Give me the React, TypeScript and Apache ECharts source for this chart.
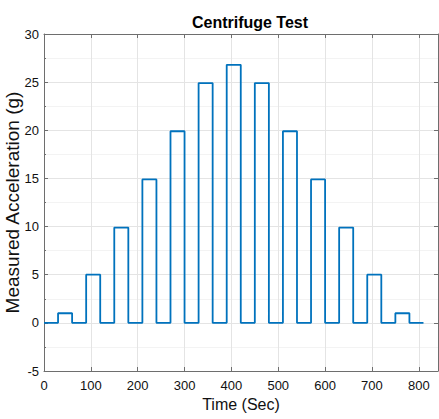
import React, { useEffect, useRef } from "react";
import * as echarts from "echarts";

// Step start times (s) and the acceleration level held for 30 s from each start
const stepStarts = [0, 30, 60, 90, 120, 150, 180, 210, 240, 270, 300, 330, 360, 390, 420, 450, 480, 510, 540, 570, 600, 630, 660, 690, 720, 750, 780];
const stepLevels = [0, 1, 0, 5, 0, 9.9, 0, 14.9, 0, 19.9, 0, 24.9, 0, 26.8, 0, 24.9, 0, 19.9, 0, 14.9, 0, 9.9, 0, 5, 0, 1, 0];
const endTime = 810;
const endLevel = 0;

const title = "Centrifuge Test";
const xName = "Time (Sec)";
const yName = "Measured Acceleration (g)";

const SANS = "'Liberation Sans', Arial, Helvetica, sans-serif";

export default function App() {
  const ref = useRef<HTMLDivElement>(null);
  useEffect(() => {
    if (!ref.current) return;
    const chart = echarts.init(ref.current, null, { renderer: "svg" });
    const data: [number, number][] = stepStarts.map((t, i) => [t, stepLevels[i]]);
    data.push([endTime, endLevel]);
    const axisColor = "#6e6e6e";
    chart.setOption({
      animation: false,
      backgroundColor: "#ffffff",
      title: {
        text: title,
        left: 245,
        textAlign: "center",
        top: 9,
        textStyle: { fontFamily: SANS, fontWeight: "bold", fontSize: 16, color: "#000" },
      },
      grid: { left: 44, right: 1, top: 34, bottom: 48, containLabel: false, outerBoundsMode: "none" },
      xAxis: [
        {
          type: "value",
          min: 0,
          max: 841,
          interval: 100,
          name: xName,
          nameLocation: "middle",
          nameGap: 25,
          nameMoveOverlap: false,
          nameTextStyle: { fontFamily: SANS, fontSize: 16, color: "#111" },
          axisLine: { show: true, onZero: false, lineStyle: { color: axisColor, width: 1 } },
          axisTick: { show: true, inside: true, length: 4, lineStyle: { color: axisColor } },
          axisLabel: {
            show: true,
            margin: 8,
            fontFamily: SANS,
            fontSize: 13,
            color: "#111",
            showMaxLabel: false,
          },
          splitLine: { show: true, lineStyle: { color: "#e4e4e4", width: 1 } },
        },
        {
          type: "value",
          position: "top",
          min: 0,
          max: 841,
          interval: 100,
          axisLine: { show: true, onZero: false, lineStyle: { color: axisColor, width: 1 } },
          axisTick: { show: true, inside: true, length: 4, lineStyle: { color: axisColor } },
          axisLabel: { show: false },
          splitLine: { show: false },
        },
      ],
      yAxis: [
        {
          type: "value",
          min: -5,
          max: 30,
          interval: 5,
          name: yName,
          nameLocation: "middle",
          nameGap: 22,
          nameMoveOverlap: false,
          nameTextStyle: { fontFamily: SANS, fontSize: 19, color: "#111" },
          axisLine: { show: true, onZero: false, lineStyle: { color: axisColor, width: 1 } },
          axisTick: { show: true, inside: true, length: 4, lineStyle: { color: axisColor } },
          minorTick: { show: true, splitNumber: 2, length: 2, lineStyle: { color: axisColor } },
          axisLabel: { show: true, margin: 5, fontFamily: SANS, fontSize: 13, color: "#111" },
          splitLine: { show: true, lineStyle: { color: "#e4e4e4", width: 1 } },
          minorSplitLine: { show: true, lineStyle: { color: "#f3f3f3", width: 1 } },
        },
        {
          type: "value",
          position: "right",
          min: -5,
          max: 30,
          interval: 5,
          axisLine: { show: true, onZero: false, lineStyle: { color: axisColor, width: 1 } },
          axisTick: { show: true, inside: true, length: 4, lineStyle: { color: axisColor } },
          axisLabel: { show: false },
          splitLine: { show: false },
        },
      ],
      series: [
        {
          type: "line",
          step: "end",
          data,
          xAxisIndex: 0,
          yAxisIndex: 0,
          showSymbol: false,
          symbol: "none",
          lineStyle: { color: "#0072BD", width: 1.8 },
        },
      ],
    });
    return () => chart.dispose();
  }, []);
  return (
    <div
      ref={ref}
      style={{ position: "fixed", left: 0, top: 0, width: 439, height: 419, background: "#fff" }}
    />
  );
}
